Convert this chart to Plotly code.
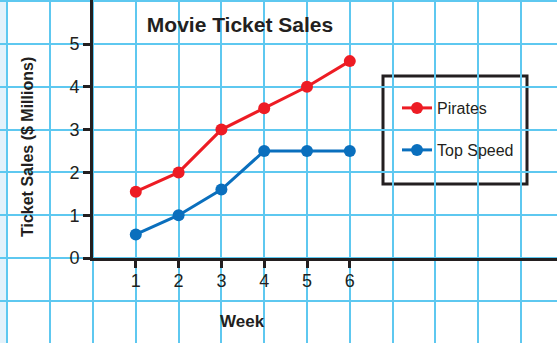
import plotly.graph_objects as go

# ---- data ----
weeks = [1, 2, 3, 4, 5, 6]
pirates = [1.55, 2.0, 3.0, 3.5, 4.0, 4.6]
top_speed = [0.55, 1.0, 1.6, 2.5, 2.5, 2.5]
y_ticks = [0, 1, 2, 3, 4, 5]
x_ticks = [1, 2, 3, 4, 5, 6]

# ---- layout geometry (pixels) ----
W, H = 557, 343
UNIT = 42.8          # pixels per grid unit
X0_PX, Y0_PX = 93, 258  # pixel position of the origin

FONT = "Liberation Sans Narrow, Liberation Sans, Arial, sans-serif"
RED = "#ed1c24"
BLUE = "#0a6fbd"
GRID = "#5ec8f0"
INK = "#231f20"

x_lo = -X0_PX / UNIT
x_hi = (W - X0_PX) / UNIT
y_lo = -(H - Y0_PX) / UNIT
y_hi = Y0_PX / UNIT

fig = go.Figure()
# empty trace so the background grid subplot is drawn
fig.add_trace(go.Scatter(x=[], y=[], xaxis="x", yaxis="y", showlegend=False, hoverinfo="skip"))
fig.add_trace(go.Scatter(x=weeks, y=pirates, name="Pirates", mode="lines+markers",
                         line=dict(color=RED, width=3), marker=dict(size=12, color=RED),
                         xaxis="x2", yaxis="y2", legend="legend"))
fig.add_trace(go.Scatter(x=weeks, y=top_speed, name="Top Speed", mode="lines+markers",
                         line=dict(color=BLUE, width=3), marker=dict(size=12, color=BLUE),
                         xaxis="x2", yaxis="y2", legend="legend2"))

fig.update_layout(
    width=W, height=H,
    autosize=False,
    margin=dict(l=0, r=0, t=0, b=0, pad=0, autoexpand=False),
    paper_bgcolor="white", plot_bgcolor="rgba(0,0,0,0)",
    font=dict(family=FONT, color=INK, size=18),
    showlegend=True,
    xaxis=dict(range=[x_lo, x_hi], dtick=1, tick0=0, showgrid=True, gridcolor=GRID, gridwidth=2,
               zeroline=False, showticklabels=False, ticks="", domain=[0, 1], anchor="y",
               automargin=False),
    yaxis=dict(range=[y_lo, y_hi], dtick=1, tick0=0, showgrid=True, gridcolor=GRID, gridwidth=2,
               zeroline=False, showticklabels=False, ticks="", domain=[0, 1], anchor="x",
               automargin=False),
    xaxis2=dict(domain=[X0_PX / W, 1], range=[0, x_hi], anchor="y2", showgrid=False, zeroline=False,
                showline=True, linecolor=INK, linewidth=3, automargin=False,
                tickvals=x_ticks, ticktext=[str(v) for v in x_ticks],
                ticks="outside", ticklen=7, tickwidth=3, tickcolor=INK,
                ticklabelstandoff=-3, tickfont=dict(size=18)),
    yaxis2=dict(domain=[(H - Y0_PX) / H, 1], range=[0, y_hi], anchor="x2", showgrid=False, zeroline=False,
                showline=True, linecolor=INK, linewidth=3, automargin=False,
                tickvals=y_ticks, ticktext=[str(v) for v in y_ticks],
                ticks="outside", ticklen=7, tickwidth=3, tickcolor=INK,
                tickfont=dict(size=18)),
    legend=dict(x=397 / W, y=(H - 108) / H, xanchor="left", yanchor="middle",
                bgcolor="rgba(0,0,0,0)", font=dict(size=16), itemwidth=30),
    legend2=dict(x=397 / W, y=(H - 150) / H, xanchor="left", yanchor="middle",
                 bgcolor="rgba(0,0,0,0)", font=dict(size=16), itemwidth=30),
    title=dict(text="<b>Movie Ticket Sales</b>", x=240 / W, xanchor="center",
               y=1 - 25 / H, yanchor="middle", font=dict(size=21, family=FONT)),
    annotations=[
        dict(text="<b>Week</b>", x=242 / W, y=(H - 321) / H, xref="paper", yref="paper",
             xanchor="center", yanchor="middle", showarrow=False, font=dict(size=17)),
        dict(text="<b>Ticket Sales ($ Millions)</b>", x=27 / W, y=(H - 147) / H, xref="paper", yref="paper",
             xanchor="center", yanchor="middle", showarrow=False, textangle=-90, font=dict(size=16)),
    ],
    shapes=[
        dict(type="rect", xref="paper", yref="paper", x0=0, x1=6 / W, y0=0, y1=1,
             fillcolor="#e3f2fb", line=dict(width=0), layer="below"),
        dict(type="rect", xref="paper", yref="paper", x0=383 / W, x1=527 / W,
             y0=(H - 184) / H, y1=(H - 76) / H, fillcolor="white",
             line=dict(color=INK, width=3), layer="between"),
    ],
)

fig.write_html("out.html")
